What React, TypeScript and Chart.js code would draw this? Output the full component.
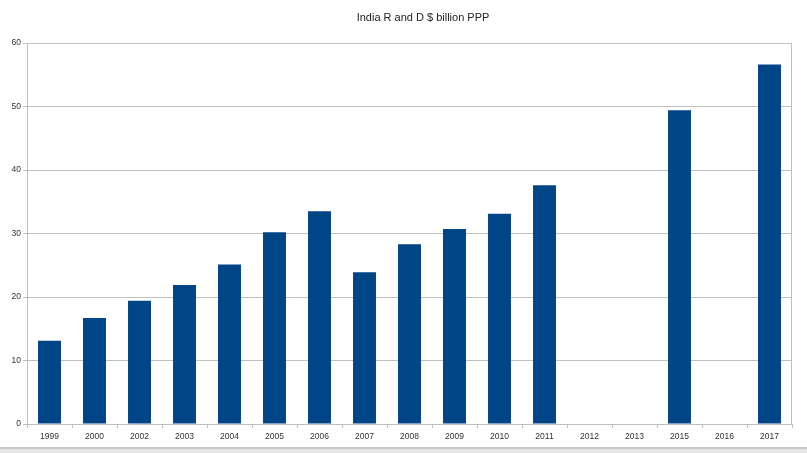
import React, { useEffect, useRef } from "react";
import { Chart, registerables } from "chart.js";

Chart.register(...registerables);

const categories = ["1999", "2000", "2002", "2003", "2004", "2005", "2006", "2007", "2008", "2009", "2010", "2011", "2012", "2013", "2015", "2016", "2017"];
const values: (number | null)[] = [13.1, 16.7, 19.4, 21.9, 25.1, 30.2, 33.5, 23.9, 28.3, 30.7, 33.1, 37.6, null, null, 49.4, null, 56.6];
const titleText = "India R and D $ billion PPP";

const FONT = "'Liberation Sans', Arial, sans-serif";

export default function App() {
  const ref = useRef<HTMLCanvasElement | null>(null);
  useEffect(() => {
    if (!ref.current) return;
    const customTitle = {
      id: "customTitle",
      afterDraw(chart: any) {
        const ctx = chart.ctx;
        ctx.save();
        ctx.font = `11px ${FONT}`;
        ctx.fillStyle = "#222";
        ctx.textAlign = "center";
        ctx.textBaseline = "middle";
        ctx.fillText(titleText, 423, 18);
        ctx.restore();
      },
    };
    const rightBorder = {
      id: "rightBorder",
      afterDraw(chart: any) {
        const { ctx, chartArea } = chart;
        ctx.save();
        ctx.strokeStyle = "#c0c0c0";
        ctx.lineWidth = 1;
        ctx.beginPath();
        ctx.moveTo(chartArea.right - 0.5, chartArea.top);
        ctx.lineTo(chartArea.right - 0.5, chartArea.bottom);
        ctx.stroke();
        ctx.restore();
      },
    };
    const chart = new Chart(ref.current, {
      type: "bar",
      data: {
        labels: categories,
        datasets: [
          {
            data: values,
            backgroundColor: "#004586",
            barPercentage: 0.51,
            categoryPercentage: 1,
          },
        ],
      },
      options: {
        animation: false,
        responsive: false,
        maintainAspectRatio: false,
        layout: { padding: { left: 0, right: 15, top: 43, bottom: 0 } },
        plugins: {
          legend: { display: false },
          title: { display: false },
          tooltip: { enabled: false },
        },
        scales: {
          x: {
            grid: {
              display: true,
              drawOnChartArea: false,
              drawTicks: true,
              tickLength: 4,
              color: "#c0c0c0",
              offset: true,
            },
            border: { display: true, color: "#c0c0c0" },
            ticks: {
              color: "#333",
              font: { family: FONT, size: 8.5 },
              padding: 4,
              maxRotation: 0,
              autoSkip: false,
            },
            afterFit(scale: any) {
              scale.height = 23;
            },
          },
          y: {
            min: 0,
            max: 60,
            ticks: {
              stepSize: 10,
              color: "#333",
              font: { family: FONT, size: 8.5 },
              padding: 2,
            },
            grid: {
              color: "#c0c0c0",
              tickLength: 4,
            },
            border: { display: true, color: "#c0c0c0" },
            afterFit(scale: any) {
              scale.width = 27;
            },
          },
        },
      },
      plugins: [customTitle, rightBorder],
    });
    return () => chart.destroy();
  }, []);
  return (
    <div style={{ position: "absolute", left: 0, top: 0, width: 807, height: 453, background: "#fff", overflow: "hidden" }}>
      <canvas ref={ref} width={807} height={447} style={{ display: "block", width: 807, height: 447 }} />
      <div style={{ height: 6, background: "#e6e6e6", borderTop: "2px solid #c8c8c8", boxSizing: "border-box" }} />
    </div>
  );
}
